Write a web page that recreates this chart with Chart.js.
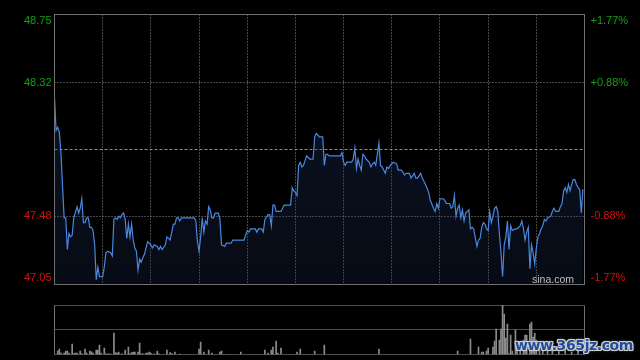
<!DOCTYPE html>
<html><head><meta charset="utf-8">
<script src="https://cdn.jsdelivr.net/npm/chart.js@4.4.1/dist/chart.umd.min.js"></script>
<style>
html,body{margin:0;padding:0;background:#000;}
#wrap{position:relative;width:640px;height:360px;overflow:hidden;background:#000;}
#c1{position:absolute;left:0;top:0;}
#c2{position:absolute;left:0;top:290px;}
#sina{position:absolute;left:532px;top:273px;font:10.5px/12px "Liberation Sans",Arial,sans-serif;color:#bdbdbd;}
#wm{position:absolute;left:515px;top:338px;font:bold 14px/14px "DejaVu Sans",Verdana,sans-serif;letter-spacing:-0.4px;color:#1f4c9c;
text-shadow:-1px -1px 0 #cfcfcf,1px -1px 0 #cfcfcf,-1px 1px 0 #cfcfcf,1px 1px 0 #cfcfcf,0 -1px 0 #cfcfcf,0 1px 0 #cfcfcf,-1px 0 0 #cfcfcf,1px 0 0 #cfcfcf,0 0 3px #eee;}
</style></head>
<body>
<div id="wrap">
<canvas id="c1" width="640" height="290"></canvas>
<canvas id="c2" width="640" height="70"></canvas>
<div id="sina">sina.com</div>
<div id="wm">www.365jz.com</div>
</div>
<script>
const prevClose = 47.90;
const priceTicks = [47.05, 47.48, 47.90, 48.32, 48.75];
const gridMinutes = [30, 60, 90, 120, 150, 180, 210, 240, 270, 300];

const priceMinutes = [0,1,2,3,4,5,6,7,8,9,10,11,12,14,15,16,17,18,19,20,21,22,23,24,25,26,27,28,30,31,32,33,35,36,37,38,39,40,41,42,43,44,45,46,47,48,49,50,51,52,53,54,55,56,57,58,60,61,62,64,65,66,67,69,70,71,72,74,75,76,77,78,79,81,87,88,89,90,91,92,93,94,95,96,97,98,99,100,102,103,104,106,107,110,111,118,119,120,121,122,125,126,127,129,130,131,133,134,135,136,137,138,141,143,147,148,149,150,151,152,153,154,155,156,157,159,161,162,163,164,165,167,168,169,170,171,178,179,180,181,182,185,186,187,188,189,190,191,192,193,194,196,197,198,199,200,201,202,203,204,206,207,208,209,211,213,214,216,218,219,221,222,224,225,226,228,229,231,233,234,236,237,238,239,240,242,243,244,246,247,248,249,250,251,252,253,254,255,256,258,259,260,261,263,264,265,266,267,268,269,270,271,272,273,274,275,276,277,278,279,280,281,282,283,284,285,287,288,289,290,291,292,293,294,295,296,297,298,299,300,301,302,303,304,305,306,307,309,310,311,312,314,315,316,317,318,319,320,321,322,323,324,325,326,327,328,329];
const prices = [48.23,48.02,48.04,48.01,47.88,47.67,47.47,47.47,47.27,47.37,47.35,47.36,47.47,47.54,47.50,47.53,47.59,47.44,47.44,47.47,47.47,47.41,47.41,47.39,47.30,47.08,47.16,47.10,47.10,47.16,47.25,47.26,47.25,47.23,47.46,47.47,47.46,47.48,47.47,47.49,47.50,47.46,47.34,47.43,47.35,47.43,47.33,47.28,47.26,47.14,47.21,47.19,47.22,47.24,47.28,47.32,47.30,47.28,47.30,47.29,47.27,47.29,47.27,47.30,47.35,47.34,47.33,47.43,47.43,47.47,47.47,47.45,47.47,47.47,47.47,47.45,47.32,47.26,47.35,47.47,47.38,47.45,47.43,47.54,47.52,47.47,47.47,47.50,47.50,47.46,47.30,47.29,47.31,47.31,47.33,47.33,47.36,47.39,47.38,47.40,47.40,47.38,47.40,47.40,47.38,47.46,47.49,47.49,47.42,47.55,47.55,47.51,47.51,47.55,47.55,47.66,47.64,47.63,47.61,47.80,47.82,47.79,47.80,47.83,47.86,47.84,47.84,47.98,48.00,47.99,47.98,47.98,47.80,47.87,47.87,47.86,47.86,47.88,47.82,47.80,47.82,47.82,47.84,47.91,47.78,47.84,47.80,47.77,47.87,47.86,47.84,47.82,47.79,47.81,47.82,47.80,47.87,47.94,47.80,47.79,47.75,47.79,47.78,47.80,47.82,47.81,47.77,47.77,47.74,47.75,47.75,47.72,47.75,47.72,47.72,47.75,47.72,47.68,47.63,47.58,47.53,47.51,47.56,47.53,47.59,47.59,47.58,47.56,47.56,47.53,47.54,47.61,47.48,47.53,47.55,47.47,47.52,47.45,47.50,47.52,47.40,47.41,47.40,47.29,47.33,47.34,47.41,47.44,47.43,47.40,47.39,47.51,47.44,47.48,47.53,47.54,47.51,47.37,47.25,47.10,47.30,47.35,47.45,47.27,47.42,47.39,47.40,47.40,47.41,47.42,47.45,47.40,47.33,47.38,47.41,47.15,47.30,47.25,47.18,47.28,47.35,47.37,47.40,47.42,47.46,47.45,47.47,47.48,47.51,47.53,47.51,47.51,47.54,47.56,47.64,47.66,47.63,47.68,47.64,47.68,47.71,47.71,47.68,47.66,47.65,47.50,47.65];

const volMinutes = [2,3,4,6,7,8,9,11,12,13,14,16,17,19,20,22,23,24,26,27,28,29,31,32,33,34,35,37,38,39,40,42,44,46,47,48,49,50,52,53,54,55,57,58,59,60,62,64,65,70,72,73,75,78,90,91,93,96,98,103,104,116,131,133,135,136,138,139,141,151,153,162,168,202,251,259,264,266,267,269,270,273,274,275,277,278,279,280,281,282,283,284,285,287,288,290,292,293,294,296,297,298,299,300,302,304,307,310,314,318,322,326];
const volumes = [6.8,10.8,2.7,2.7,6.8,6.8,2.7,21,2,2.7,2.7,6.8,1.4,10.8,2.7,6.8,5.4,2.7,8.8,8.8,18.9,2.7,12.8,1.4,0.7,1.4,0.7,43.2,4,2.7,4.7,1.4,8.8,14.9,1.4,4,4.7,4.7,4.7,23,1.4,1.4,2.7,2.7,4.7,2.7,1.4,6.8,1.4,8.8,4,2,4.7,0.7,10.8,25,4.7,8.8,2.7,4.7,6.8,4.7,8.8,2.7,8.8,14.9,27,2.7,12.8,4.7,10.8,6.8,18.9,10.8,6.8,31,14.9,4.7,4.7,6.8,12.8,14.9,27,51.4,29,51.4,100,81.8,33,61.5,2,39,6.8,49.3,27,27,29,39,39,61.5,65.5,35,43,29,22,19,15.5,8,6,10,5,7];
const volMax = 100;

const GREEN = '#12a012';
const RED = '#d41010';
const FONT = {family: '"Liberation Sans", Arial, sans-serif', size: 11};

function placeLabel(v, text) {
  if (v === priceTicks[priceTicks.length - 1]) return ['', text];
  if (v === priceTicks[0]) return [text, ''];
  if (v === prevClose) return '';
  return text;
}
function pctText(v) {
  const p = (v - prevClose) / prevClose * 100;
  return (p >= 0 ? '+' : '-') + Math.abs(p).toFixed(2) + '%';
}
const crisp = v => Math.floor(v) + 0.5;

const mainFrame = {
  id: 'mainFrame',
  beforeDatasetsDraw(chart) {
    const {ctx, chartArea: a, scales: {x, y}} = chart;
    ctx.save();
    ctx.lineWidth = 1;
    ctx.strokeStyle = '#8e8e8e';
    ctx.setLineDash([1, 2]);
    gridMinutes.forEach(m => {
      const px = crisp(x.getPixelForValue(m));
      ctx.beginPath(); ctx.moveTo(px, a.top); ctx.lineTo(px, a.bottom); ctx.stroke();
    });
    priceTicks.slice(1, -1).forEach(v => {
      if (v === prevClose) return;
      const py = crisp(y.getPixelForValue(v));
      ctx.beginPath(); ctx.moveTo(a.left, py); ctx.lineTo(a.right, py); ctx.stroke();
    });
    ctx.setLineDash([3, 2]);
    ctx.strokeStyle = '#8c8c8c';
    const pc = crisp(y.getPixelForValue(prevClose));
    ctx.beginPath(); ctx.moveTo(a.left, pc); ctx.lineTo(a.right, pc); ctx.stroke();
    ctx.restore();
  },
  afterDatasetsDraw(chart) {
    const {ctx, chartArea: a} = chart;
    ctx.save();
    ctx.lineWidth = 1;
    ctx.strokeStyle = '#707070';
    ctx.setLineDash([]);
    ctx.strokeRect(crisp(a.left), crisp(a.top), Math.round(a.right - a.left), Math.round(a.bottom - a.top));
    ctx.restore();
  }
};

new Chart(document.getElementById('c1'), {
  type: 'line',
  data: {
    datasets: [{
      data: priceMinutes.map((m, i) => ({x: m, y: prices[i]})),
      borderColor: '#4b86de',
      borderWidth: 1.2,
      pointRadius: 0,
      tension: 0,
      fill: 'start',
      backgroundColor: (c) => {
        const a = c.chart.chartArea;
        if (!a) return 'rgba(30,50,90,0.3)';
        const g = c.chart.ctx.createLinearGradient(0, a.top, 0, a.bottom);
        g.addColorStop(0, 'rgba(30,50,95,0.40)');
        g.addColorStop(1, 'rgba(30,50,95,0.22)');
        return g;
      }
    }]
  },
  options: {
    responsive: false,
    animation: false,
    layout: {padding: {top: 14.5, bottom: 5.5, left: 0, right: 0}},
    scales: {
      x: {type: 'linear', min: 0, max: 330, display: false},
      y: {
        position: 'left', min: 47.05, max: 48.75,
        afterBuildTicks: s => { s.ticks = priceTicks.map(v => ({value: v})); },
        afterFit: s => { s.width = 54.5; s.paddingTop = 0; s.paddingBottom = 0; },
        grid: {display: false, drawTicks: false},
        border: {display: false},
        ticks: {
          padding: 3, font: FONT,
          color: c => (c.tick && c.tick.value > prevClose) ? GREEN : RED,
          callback: v => placeLabel(v, v.toFixed(2))
        }
      },
      y2: {
        position: 'right', min: 47.05, max: 48.75,
        afterBuildTicks: s => { s.ticks = priceTicks.map(v => ({value: v})); },
        afterFit: s => { s.width = 55.5; s.paddingTop = 0; s.paddingBottom = 0; },
        grid: {display: false, drawTicks: false},
        border: {display: false},
        ticks: {
          padding: 6, font: FONT,
          color: c => (c.tick && c.tick.value > prevClose) ? GREEN : RED,
          callback: v => placeLabel(v, pctText(v))
        }
      }
    },
    plugins: {legend: {display: false}, tooltip: {enabled: false}}
  },
  plugins: [mainFrame]
});

const volFrame = {
  id: 'volFrame',
  beforeDatasetsDraw(chart) {
    const {ctx, chartArea: a, scales: {y}} = chart;
    ctx.save();
    ctx.lineWidth = 1;
    ctx.strokeStyle = '#9a9a9a';
    ctx.setLineDash([1, 1]);
    [volMax, volMax / 2, 0].forEach(v => {
      const py = crisp(y.getPixelForValue(v));
      ctx.beginPath(); ctx.moveTo(a.left, py); ctx.lineTo(a.right, py); ctx.stroke();
    });
    ctx.setLineDash([]);
    ctx.strokeStyle = '#707070';
    [a.left, a.right].forEach(px => {
      const cx = crisp(px);
      ctx.beginPath(); ctx.moveTo(cx, crisp(a.top)); ctx.lineTo(cx, crisp(a.bottom)); ctx.stroke();
    });
    ctx.restore();
  }
};

new Chart(document.getElementById('c2'), {
  type: 'bar',
  data: {
    datasets: [{
      data: volMinutes.map((m, i) => ({x: m, y: volumes[i]})),
      backgroundColor: '#8c8c8c',
      borderWidth: 0,
      barThickness: 1
    }]
  },
  options: {
    responsive: false,
    animation: false,
    layout: {padding: {top: 15, bottom: 5.5, left: 54.5, right: 55.5}},
    scales: {
      x: {type: 'linear', min: 0, max: 330, offset: false, display: false},
      y: {min: 0, max: volMax, display: false}
    },
    plugins: {legend: {display: false}, tooltip: {enabled: false}}
  },
  plugins: [volFrame]
});
</script>
</body></html>
